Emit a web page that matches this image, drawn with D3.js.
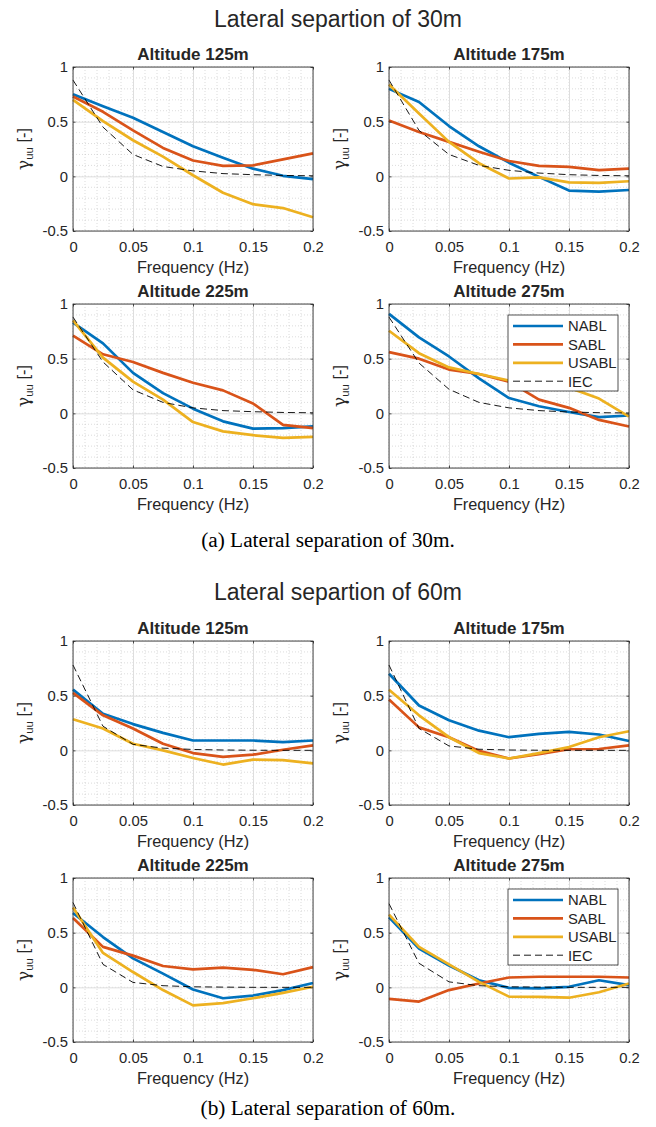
<!DOCTYPE html>
<html lang="en">
  <head>
    <meta charset="utf-8">
    <title>Lateral coherence</title>
    <style>
      body { margin: 0; background: #fff; }
      text { font-family: "Liberation Sans", Arial, sans-serif; fill: #262626; }
    </style>
  </head>
  <body>
    <script src="https://cdn.jsdelivr.net/npm/d3@7"></script>
    <div id="chart"></div>
    <script>

    // ---- data ----
    var freq = [0, 0.025, 0.05, 0.075, 0.1, 0.125, 0.15, 0.175, 0.2];
    var altitudes = ["Altitude 125m", "Altitude 175m", "Altitude 225m", "Altitude 275m"];
    var seriesNames = ["NABL", "SABL", "USABL", "IEC"];
    var xTicks = [0, 0.05, 0.1, 0.15, 0.2];
    var yTicks = [-0.5, 0, 0.5, 1];
    var xTickLabels = ["0", "0.05", "0.1", "0.15", "0.2"];
    var yTickLabels = ["-0.5", "0", "0.5", "1"];

    // lateral separation 30m, one row per altitude
    var nabl30 = [
      [0.75, 0.64, 0.535, 0.405, 0.275, 0.17, 0.07, 0.005, -0.025],
      [0.80, 0.68, 0.46, 0.275, 0.125, -0.005, -0.13, -0.14, -0.125],
      [0.83, 0.64, 0.37, 0.185, 0.043, -0.073, -0.14, -0.135, -0.12],
      [0.91, 0.695, 0.52, 0.32, 0.14, 0.065, 0.012, -0.035, -0.02]
    ];
    var sabl30 = [
      [0.73, 0.59, 0.42, 0.26, 0.145, 0.095, 0.10, 0.155, 0.21],
      [0.51, 0.405, 0.315, 0.225, 0.14, 0.095, 0.087, 0.057, 0.07],
      [0.71, 0.54, 0.47, 0.37, 0.28, 0.21, 0.09, -0.105, -0.135],
      [0.56, 0.50, 0.40, 0.36, 0.29, 0.125, 0.05, -0.06, -0.12]
    ];
    var usabl30 = [
      [0.70, 0.505, 0.33, 0.18, 0.01, -0.15, -0.255, -0.29, -0.375],
      [0.84, 0.575, 0.315, 0.12, -0.02, -0.01, -0.055, -0.06, -0.045],
      [0.85, 0.51, 0.29, 0.125, -0.08, -0.165, -0.20, -0.225, -0.215],
      [0.755, 0.55, 0.42, 0.36, 0.30, 0.27, 0.235, 0.135, -0.03]
    ];
    var iec30 = [
      [0.88, 0.45, 0.20, 0.09, 0.05, 0.025, 0.015, 0.008, 0.005],
      [0.88, 0.42, 0.20, 0.10, 0.055, 0.03, 0.015, 0.008, 0.005],
      [0.88, 0.47, 0.215, 0.10, 0.05, 0.025, 0.015, 0.008, 0.005],
      [0.88, 0.46, 0.22, 0.10, 0.05, 0.025, 0.012, 0.006, 0.003]
    ];

    // lateral separation 60m
    var nabl60 = [
      [0.555, 0.335, 0.24, 0.16, 0.09, 0.09, 0.09, 0.075, 0.09],
      [0.70, 0.41, 0.275, 0.18, 0.12, 0.15, 0.168, 0.145, 0.085],
      [0.68, 0.46, 0.265, 0.125, -0.02, -0.10, -0.075, -0.025, 0.04],
      [0.64, 0.355, 0.20, 0.065, -0.005, -0.01, 0.005, 0.065, 0.02]
    ];
    var sabl60 = [
      [0.525, 0.32, 0.20, 0.06, -0.025, -0.06, -0.04, 0.005, 0.045],
      [0.465, 0.21, 0.12, -0.005, -0.075, -0.035, 0.01, 0.012, 0.045],
      [0.635, 0.37, 0.29, 0.195, 0.165, 0.18, 0.16, 0.12, 0.185],
      [-0.105, -0.13, -0.025, 0.035, 0.09, 0.097, 0.097, 0.097, 0.09]
    ];
    var usabl60 = [
      [0.285, 0.20, 0.06, 0.0, -0.07, -0.13, -0.085, -0.09, -0.12],
      [0.555, 0.32, 0.12, -0.025, -0.075, -0.025, 0.03, 0.12, 0.175],
      [0.73, 0.315, 0.14, -0.025, -0.165, -0.145, -0.10, -0.05, 0.005],
      [0.665, 0.37, 0.21, 0.05, -0.085, -0.088, -0.095, -0.045, 0.035]
    ];
    var iec60 = [
      [0.78, 0.22, 0.055, 0.02, 0.008, 0.003, 0.001, 0, 0],
      [0.78, 0.20, 0.04, 0.01, 0.003, 0.001, 0, 0, 0],
      [0.775, 0.21, 0.045, 0.015, 0.005, 0.002, 0, 0, 0],
      [0.765, 0.22, 0.05, 0.015, 0.005, 0.002, 0, 0, 0]
    ];

    var groups = [
      {title: "Lateral separtion of 30m", caption: "(a) Lateral separation of 30m.", series: [nabl30, sabl30, usabl30, iec30]},
      {title: "Lateral separtion of 60m", caption: "(b) Lateral separation of 60m.", series: [nabl60, sabl60, usabl60, iec60]}
    ];

    // ---- layout ----
    var width = 656, height = 1127;
    var colLeft = [73, 389];
    var pw = 240, ph = 164;
    var groupTop = [67, 641];      // top of first row of panels
    var rowGap = 237;              // distance between panel rows
    var titleY = [27, 600];
    var captionY = [547, 1115];

    var colors = ["#0072BD", "#D95319", "#EDB120", "#000000"];
    var axisColor = "#262626";

    var svg = d3.select("#chart")
      .append("svg")
        .attr("width", width)
        .attr("height", height);

    var x = d3.scaleLinear().domain([0, 0.2]).range([0, pw]);
    var y = d3.scaleLinear().domain([-0.5, 1]).range([ph, 0]);

    var line = d3.line()
      .x(function(d, i) { return x(freq[i]); })
      .y(function(d) { return y(d); });

    var xMinor = d3.range(0, 0.2001, 0.01);
    var yMinor = d3.range(-0.5, 1.0001, 0.1);

    function drawPanel(g, k, series, showLegend) {
      // minor grid (dotted)
      g.selectAll(".mx").data(xMinor).enter().append("line")
        .attr("x1", function(d){ return x(d); }).attr("x2", function(d){ return x(d); })
        .attr("y1", 0).attr("y2", ph)
        .attr("stroke", "#c4c4c4").attr("stroke-width", 0.6).attr("stroke-dasharray", "1,2");
      g.selectAll(".my").data(yMinor).enter().append("line")
        .attr("y1", function(d){ return y(d); }).attr("y2", function(d){ return y(d); })
        .attr("x1", 0).attr("x2", pw)
        .attr("stroke", "#c4c4c4").attr("stroke-width", 0.6).attr("stroke-dasharray", "1,2");

      // major grid
      g.append("g")
        .attr("transform", "translate(0," + ph + ")")
        .call(d3.axisBottom(x).tickValues(xTicks).tickSize(-ph).tickFormat(""))
        .call(function(a){ a.select(".domain").remove(); a.selectAll("line").attr("stroke", "#dedede"); });
      g.append("g")
        .call(d3.axisLeft(y).tickValues(yTicks).tickSize(-pw).tickFormat(""))
        .call(function(a){ a.select(".domain").remove(); a.selectAll("line").attr("stroke", "#dedede"); });

      // data lines
      series.forEach(function(s, j) {
        g.append("path")
          .datum(s[k])
          .attr("fill", "none")
          .attr("stroke", colors[j])
          .attr("stroke-width", j < 3 ? 2.7 : 0.9)
          .attr("stroke-dasharray", j < 3 ? null : "7,4")
          .attr("stroke-linejoin", "round")
          .attr("d", line);
      });

      // axes with inward ticks
      var ax = g.append("g")
        .attr("transform", "translate(0," + ph + ")")
        .call(d3.axisBottom(x).tickValues(xTicks).tickSizeInner(-2.5).tickSizeOuter(0).tickPadding(10.5)
          .tickFormat(function(d, i){ return xTickLabels[i]; }));
      var ay = g.append("g")
        .call(d3.axisLeft(y).tickValues(yTicks).tickSizeInner(-2.5).tickSizeOuter(0).tickPadding(5)
          .tickFormat(function(d, i){ return yTickLabels[i]; }));
      var at = g.append("g")
        .call(d3.axisTop(x).tickValues(xTicks).tickSizeInner(-2.5).tickSizeOuter(0).tickFormat(""));
      var ar = g.append("g")
        .attr("transform", "translate(" + pw + ",0)")
        .call(d3.axisRight(y).tickValues(yTicks).tickSizeInner(-2.5).tickSizeOuter(0).tickFormat(""));
      [ax, ay, at, ar].forEach(function(a) {
        a.select(".domain").remove();
        a.selectAll("line").attr("stroke", axisColor).attr("stroke-width", 0.8);
        a.selectAll("text").attr("font-size", "14.8px").attr("fill", axisColor)
          .style("font-family", '"Liberation Sans", Arial, sans-serif');
      });

      g.append("rect")
        .attr("width", pw).attr("height", ph)
        .attr("fill", "none").attr("stroke", axisColor).attr("stroke-width", 0.8);

      // title and labels
      g.append("text")
        .attr("x", pw / 2).attr("y", -7)
        .attr("text-anchor", "middle")
        .attr("font-size", "17px").attr("font-weight", "bold")
        .text(altitudes[k]);

      g.append("text")
        .attr("x", pw / 2).attr("y", ph + 42)
        .attr("text-anchor", "middle")
        .attr("font-size", "16.3px")
        .text("Frequency (Hz)");

      var yl = g.append("text")
        .attr("transform", "translate(-44," + (ph / 2) + ") rotate(-90)")
        .attr("text-anchor", "middle")
        .attr("font-size", "16.3px");
      yl.append("tspan").style("font-family", '"DejaVu Serif", serif').attr("font-size", "17px").text("\u03b3");
      yl.append("tspan").attr("font-size", "11.5px").attr("dy", 4).text("uu");
      yl.append("tspan").attr("dy", -4).text(" [-]");

      if (showLegend) {
        var lg = g.append("g").attr("transform", "translate(" + (pw - 121) + ",11)");
        lg.append("rect")
          .attr("width", 110).attr("height", 76)
          .attr("fill", "#fff").attr("stroke", axisColor).attr("stroke-width", 0.8);
        seriesNames.forEach(function(n, j) {
          var yy = 11 + j * 18.4;
          lg.append("line")
            .attr("x1", 5).attr("x2", 55).attr("y1", yy).attr("y2", yy)
            .attr("stroke", colors[j])
            .attr("stroke-width", j < 3 ? 2.7 : 0.9)
            .attr("stroke-dasharray", j < 3 ? null : "7,4");
          lg.append("text")
            .attr("x", 60).attr("y", yy).attr("dy", "0.36em")
            .attr("font-size", "14.8px")
            .text(n);
        });
      }
    }

    groups.forEach(function(grp, gi) {
      svg.append("text")
        .attr("x", 338).attr("y", titleY[gi])
        .attr("text-anchor", "middle")
        .attr("font-size", "23px")
        .text(grp.title);

      for (var k = 0; k < 4; k++) {
        var col = k % 2, row = Math.floor(k / 2);
        var g = svg.append("g")
          .attr("transform", "translate(" + colLeft[col] + "," + (groupTop[gi] + row * rowGap) + ")");
        drawPanel(g, k, grp.series, k === 3);
      }

      svg.append("text")
        .attr("x", 328).attr("y", captionY[gi])
        .attr("text-anchor", "middle")
        .style("font-family", '"Liberation Serif", "Times New Roman", serif')
        .style("fill", "#000")
        .attr("font-size", "21.3px")
        .text(grp.caption);
    });

    </script>
  </body>
</html>
